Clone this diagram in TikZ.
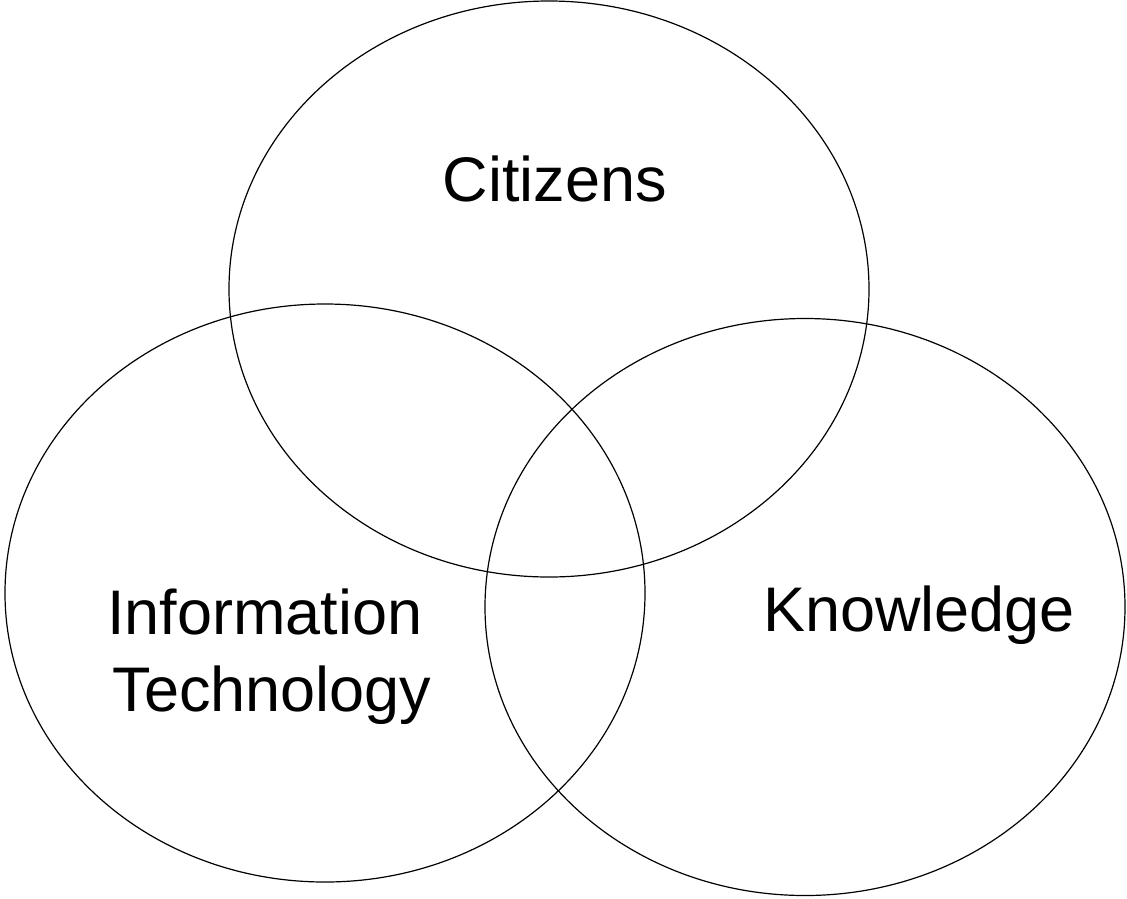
\documentclass[tikz,border=0pt]{standalone}
\usepackage{fontspec}
\setmainfont{Liberation Sans}
\usetikzlibrary{shapes.geometric}

\begin{document}
\begin{tikzpicture}[x=1pt,y=-1pt,line width=1.2pt,
  set/.style={ellipse,draw,inner sep=0pt,minimum width=640pt},
  lbl/.style={anchor=base,inner sep=0pt,font=\fontsize{63}{75}\selectfont}]
\useasboundingbox (0,0) rectangle (1127,898);
\node[set,minimum height=576pt] at (549,289) (citizens) {};
\node[set,minimum height=578pt] at (325,593) (infotech) {};
\node[set,minimum height=577pt] at (805,607) (knowledge) {};
\node[lbl] at (555,201) (citlbl) {Citizens};
\node[lbl] at (265,634) (itlbla) {Information};
\node[lbl] at (272,711) (itlblb) {Technology};
\node[lbl] at (919,631) (knowlbl) {Knowledge};
\end{tikzpicture}
\end{document}
